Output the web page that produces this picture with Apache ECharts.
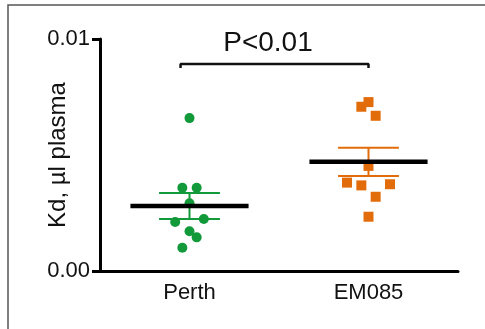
<!DOCTYPE html>
<html>
<head>
<meta charset="utf-8">
<script src="https://cdn.jsdelivr.net/npm/echarts@6/dist/echarts.min.js"></script>
<style>
  html, body { margin: 0; padding: 0; background: #fff; }
  #chart { width: 485px; height: 329px; }
</style>
</head>
<body>
<div id="chart"></div>
<script>
// groups on the x axis
const categories = ["Perth", "EM085"];
// Kd values
const perthValues = [0.00659, 0.00359, 0.00359, 0.00292, 0.00211, 0.00224, 0.00171, 0.00145, 0.00100];
const em085Values = [0.00728, 0.00708, 0.00669, 0.00453, 0.00381, 0.00369, 0.00374, 0.00320, 0.00234];
// horizontal scatter (jitter) of each dot, in category units
const perthJitter = [0, -0.04, 0.04, 0, -0.08, 0.08, 0, 0.04, -0.04];
const em085Jitter = [0, -0.04, 0.04, 0, -0.12, -0.04, 0.12, 0.04, 0];
// y tick labels
const yTicks = [0, 0.01];
// significance bracket: [x from, x to, top, drop]
const bracket = [0.95, 2.0, 0.00892, 0.00875];
const pText = "P<0.01";

const green = "#12993A";
const orange = "#E36C0A";

function stats(arr) {
  const n = arr.length;
  const mean = arr.reduce((a, b) => a + b, 0) / n;
  const sd = Math.sqrt(arr.reduce((a, b) => a + (b - mean) * (b - mean), 0) / (n - 1));
  return { mean, sem: sd / Math.sqrt(n) };
}

const perthStats = stats(perthValues);
const emStats = stats(em085Values);
const summary = [
  [1, perthStats.mean, perthStats.sem, green],
  [2, emStats.mean, emStats.sem, orange],
];

const font = "Liberation Sans, Arial, sans-serif";
var myChart = echarts.init(document.getElementById("chart"));
myChart.setOption({
  animation: false,
  grid: { left: 100, right: 27, top: 39, bottom: 58 },
  graphic: [
    {
      type: "rect",
      shape: { x: 8, y: 5, width: 520, height: 360 },
      style: { fill: "none", stroke: "#555", lineWidth: 1.5 },
      silent: true,
    },
    {
      type: "text",
      x: 268,
      y: 43,
      style: {
        text: pText,
        font: "28px " + font,
        fill: "#111",
        align: "center",
        verticalAlign: "middle",
      },
    },
  ],
  xAxis: [
    {
      type: "category",
      data: categories,
      boundaryGap: true,
      axisLine: { lineStyle: { color: "#000", width: 3 } },
      axisTick: { alignWithLabel: true, length: 7, lineStyle: { color: "#000", width: 3 } },
      axisLabel: { color: "#111", fontSize: 22, fontFamily: font, margin: 11 },
    },
    {
      type: "value",
      min: 0.5,
      max: 2.5,
      show: false,
    },
  ],
  yAxis: {
    type: "value",
    min: yTicks[0],
    max: yTicks[1],
    interval: yTicks[1] - yTicks[0],
    name: "Kd, µl plasma",
    nameLocation: "middle",
    nameGap: 30,
    nameMoveOverlap: false,
    nameTextStyle: { color: "#111", fontSize: 24, fontFamily: font },
    splitLine: { show: false },
    axisLine: { show: true, lineStyle: { color: "#000", width: 3 } },
    axisTick: { show: true, length: 8, lineStyle: { color: "#000", width: 3 } },
    axisLabel: {
      color: "#111",
      fontSize: 22,
      fontFamily: font,
      margin: 10,
      formatter: (v) => v.toFixed(2),
    },
  },
  series: [
    {
      type: "scatter",
      xAxisIndex: 1,
      symbol: "circle",
      symbolSize: 10,
      itemStyle: { color: green, opacity: 1 },
      data: perthValues.map((v, i) => [1 + perthJitter[i], v]),
    },
    {
      type: "scatter",
      xAxisIndex: 1,
      symbol: "rect",
      symbolSize: 10,
      itemStyle: { color: orange, opacity: 1 },
      data: em085Values.map((v, i) => [2 + em085Jitter[i], v]),
    },
    {
      // mean +/- SEM
      type: "custom",
      xAxisIndex: 1,
      data: summary,
      renderItem(params, api) {
        const x = api.value(0);
        const m = api.value(1);
        const s = api.value(2);
        const c = summary[params.dataIndex][3];
        const hi = api.coord([x, m + s]);
        const lo = api.coord([x, m - s]);
        const capL = api.coord([x - 0.17, 0])[0];
        const capR = api.coord([x + 0.17, 0])[0];
        const meanL = api.coord([x - 0.33, m]);
        const meanR = api.coord([x + 0.33, m]);
        const sty = { stroke: c, lineWidth: 2 };
        return {
          type: "group",
          children: [
            { type: "line", shape: { x1: hi[0], y1: hi[1], x2: lo[0], y2: lo[1] }, style: sty },
            { type: "line", shape: { x1: capL, y1: hi[1], x2: capR, y2: hi[1] }, style: sty },
            { type: "line", shape: { x1: capL, y1: lo[1], x2: capR, y2: lo[1] }, style: sty },
            {
              type: "line",
              shape: { x1: meanL[0], y1: meanL[1], x2: meanR[0], y2: meanR[1] },
              style: { stroke: "#000", lineWidth: 4.5 },
            },
          ],
        };
      },
      z: 5,
    },
    {
      // significance bracket
      type: "line",
      xAxisIndex: 1,
      symbol: "none",
      lineStyle: { color: "#111", width: 2.5 },
      data: [
        [bracket[0], bracket[3]],
        [bracket[0], bracket[2]],
        [bracket[1], bracket[2]],
        [bracket[1], bracket[3]],
      ],
    },
  ],
});
</script>
</body>
</html>
